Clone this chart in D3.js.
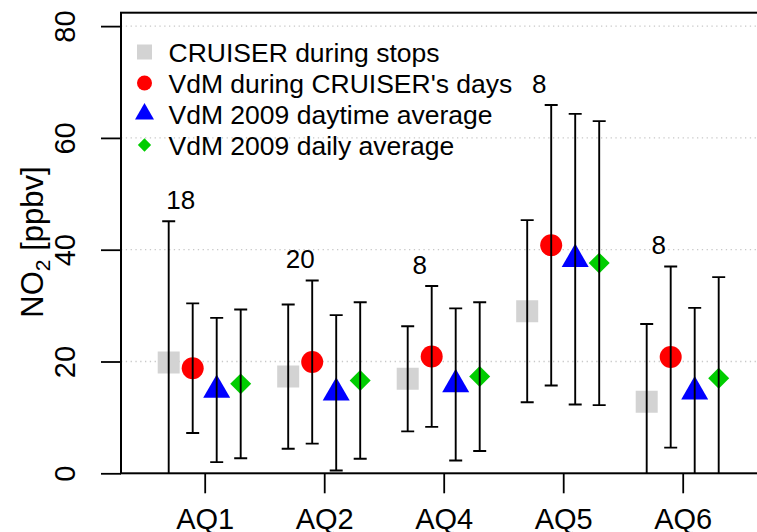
<!DOCTYPE html>
<html>
<head>
<meta charset="utf-8">
<script src="https://cdn.jsdelivr.net/npm/d3@7"></script>
<style>
  body { margin:0; background:#fff; }
  text { font-family:"Liberation Sans", Arial, Helvetica, sans-serif; fill:#000; }
</style>
</head>
<body>
<div id="chart"></div>
<script>
// sites and series (mean, sd)
var sites = ["AQ1","AQ2","AQ4","AQ5","AQ6"]
var seriesNames = ["CRUISER during stops","VdM during CRUISER's days","VdM 2009 daytime average","VdM 2009 daily average"]
var cruiserMean = [19.8, 17.3, 16.9, 29.0, 12.8]
var cruiserSd   = [25.3, 12.9, 9.4, 16.3, 13.9]
var vdmDaysMean = [18.8, 19.9, 20.9, 40.8, 20.8]
var vdmDaysSd   = [11.6, 14.6, 12.6, 25.1, 16.2]
var vdmDaytimeMean = [14.9, 14.4, 15.9, 38.3, 14.6]
var vdmDaytimeSd   = [12.9, 13.9, 13.6, 26.0, 15.0]
var vdmDailyMean = [16.0, 16.6, 17.3, 37.6, 17.0]
var vdmDailySd   = [13.3, 14.0, 13.3, 25.4, 18.1]
var nStops = [18, 20, 8, 8, 8]
var yTicks = [0, 20, 40, 60, 80]

var colors = ["#d3d3d3","#ff0000","#0000ff","#00cd00"]

var width = 757, height = 532
// note: "top" is taken by window.top, so plot edges get their own names
var plotLeft = 121, plotTop = 12.7, plotBottom = 473.3

var svg = d3.select("#chart").append("svg")
  .attr("width", width).attr("height", height)

var x = d3.scalePoint().domain(sites).range([204.7, 682.7])
var off = d3.scalePoint().domain(d3.range(4)).range([-36, 36])
var y = d3.scaleLinear().domain([0, 82.4]).range([plotBottom, plotTop])

var means = [cruiserMean, vdmDaysMean, vdmDaytimeMean, vdmDailyMean]
var sds = [cruiserSd, vdmDaysSd, vdmDaytimeSd, vdmDailySd]
var rows = []
sites.forEach(function(s, i){
  for (var k = 0; k < 4; k++){
    rows.push({site:s, k:k, m:means[k][i], sd:sds[k][i]})
  }
})

svg.append("clipPath").attr("id","plotclip")
  .append("rect").attr("x", plotLeft).attr("y", plotTop)
  .attr("width", width).attr("height", plotBottom - plotTop)

// dotted grid
svg.append("g").selectAll("line")
  .data(yTicks.filter(function(d){ return d > 0 }))
  .enter().append("line")
  .attr("x1", plotLeft).attr("x2", width)
  .attr("y1", function(d){ return y(d) }).attr("y2", function(d){ return y(d) })
  .attr("stroke", "#c8c8c8").attr("stroke-width", 1.3)
  .attr("stroke-dasharray", "1.3,3.5")

function symbolFor(k, big){
  var sizes = big ? [484, 380, 316, 220] : [225, 177, 156, 88]
  var t = [d3.symbolSquare, d3.symbolCircle, d3.symbolTriangle, d3.symbolSquare][k]
  return d3.symbol().type(t).size(sizes[k])()
}

var plot = svg.append("g").attr("clip-path", "url(#plotclip)")

// markers
plot.selectAll("path.pt").data(rows).enter().append("path")
  .attr("class", "pt")
  .attr("d", function(d){ return symbolFor(d.k, true) })
  .attr("fill", function(d){ return colors[d.k] })
  .attr("transform", function(d){
    var t = "translate(" + (x(d.site) + off(d.k)) + "," + y(d.m) + ")"
    return d.k == 3 ? t + " rotate(45)" : t
  })

// error bars on top
var eb = plot.selectAll("g.eb").data(rows).enter().append("g")
  .attr("class", "eb")
  .attr("stroke", "#000").attr("stroke-width", 1.9)
eb.append("line")
  .attr("x1", function(d){ return x(d.site) + off(d.k) })
  .attr("x2", function(d){ return x(d.site) + off(d.k) })
  .attr("y1", function(d){ return y(d.m - d.sd) })
  .attr("y2", function(d){ return y(d.m + d.sd) })
eb.selectAll("line.cap")
  .data(function(d){ return [d.m - d.sd, d.m + d.sd].map(function(v){ return {xc:x(d.site) + off(d.k), v:v} }) })
  .enter().append("line").attr("class", "cap")
  .attr("x1", function(d){ return d.xc - 6.5 })
  .attr("x2", function(d){ return d.xc + 6.5 })
  .attr("y1", function(d){ return y(d.v) })
  .attr("y2", function(d){ return y(d.v) })

// number of stops
svg.append("g").selectAll("text").data(sites).enter().append("text")
  .attr("x", function(d){ return x(d) + off(0) + 12 })
  .attr("y", function(d, i){
    var hi = Math.max(cruiserMean[i] + cruiserSd[i], vdmDaysMean[i] + vdmDaysSd[i])
    return y(hi) - 12
  })
  .attr("text-anchor", "middle")
  .style("font-size", "26px")
  .text(function(d, i){ return nStops[i] })

// axes
var yAxis = svg.append("g").attr("transform", "translate(" + plotLeft + ",0)")
  .call(d3.axisLeft(y).tickValues(yTicks).tickSize(20).tickFormat(d3.format("d")))
yAxis.select(".domain").remove()
yAxis.selectAll("line").attr("stroke", "#000").attr("stroke-width", 1.8)
yAxis.selectAll("text")
  .attr("transform", "rotate(-90)")
  .attr("x", 0).attr("y", -46).attr("dy", 0)
  .attr("text-anchor", "middle")
  .attr("font-family", null)
  .attr("font-size", null)
  .style("font-size", "29px")

var xAxis = svg.append("g").attr("transform", "translate(0," + plotBottom + ")")
  .call(d3.axisBottom(x).tickSize(20))
xAxis.select(".domain").remove()
xAxis.selectAll("line").attr("stroke", "#000").attr("stroke-width", 1.8)
xAxis.selectAll("text")
  .attr("y", 56).attr("dy", 0)
  .style("font-size", "29px")

// box (right side runs off the picture)
svg.append("rect")
  .attr("x", plotLeft).attr("y", plotTop)
  .attr("width", width + 20).attr("height", plotBottom - plotTop)
  .attr("fill", "none").attr("stroke", "#000").attr("stroke-width", 2)

// y title
svg.append("text")
  .attr("transform", "translate(43,242) rotate(-90)")
  .attr("text-anchor", "middle")
  .style("font-size", "31px")
  .call(function(t){
    t.append("tspan").text("NO")
    t.append("tspan").attr("dy", 7).style("font-size", "21px").text("2")
    t.append("tspan").attr("dy", -7).text(" [ppbv]")
  })

// legend
var lg = svg.append("g").selectAll("g").data(seriesNames).enter().append("g")
  .attr("transform", function(d, i){ return "translate(144.5," + (52 + i * 31) + ")" })
lg.append("path")
  .attr("d", function(d, i){ return symbolFor(i, false) })
  .attr("fill", function(d, i){ return colors[i] })
  .attr("transform", function(d, i){ return i == 3 ? "rotate(45)" : null })
lg.append("text")
  .attr("x", 24).attr("y", 10)
  .style("font-size", "26.5px")
  .text(function(d){ return d })
</script>
</body>
</html>
